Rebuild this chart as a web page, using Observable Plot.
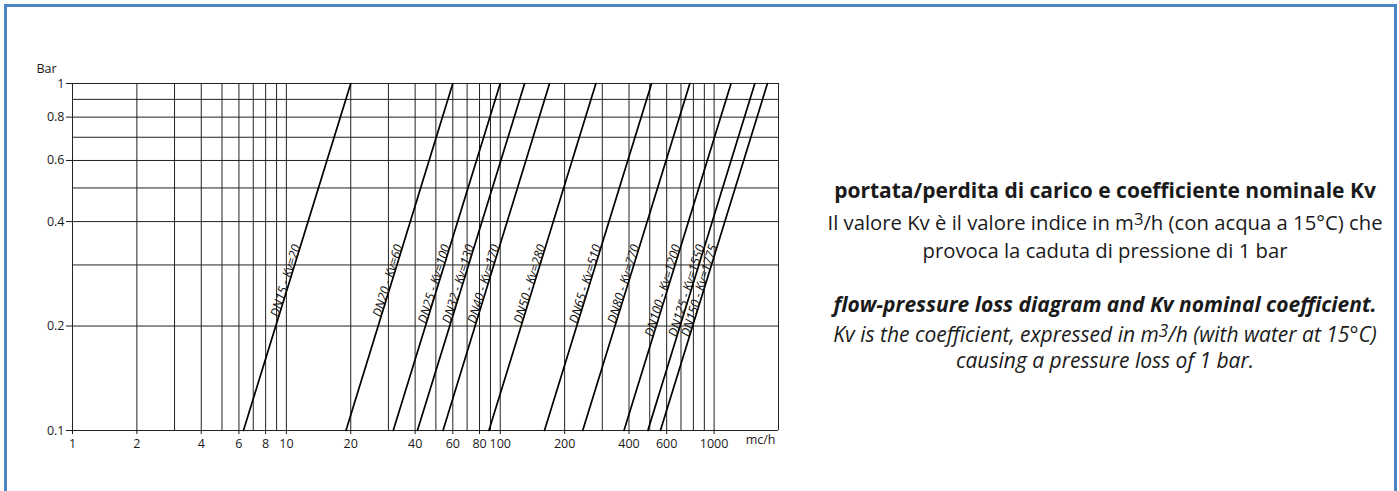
<!DOCTYPE html>
<html><head><meta charset="utf-8">
<script src="https://cdn.jsdelivr.net/npm/d3@7"></script>
<script src="https://cdn.jsdelivr.net/npm/@observablehq/plot@0.6"></script>
<style>
html,body{margin:0;padding:0;background:#fff;}
body{width:1399px;height:491px;overflow:hidden;position:relative;font-family:"Open Sans",sans-serif;color:#1a1a1a;}
#frame{position:absolute;left:4px;top:4px;width:1393px;height:540px;border:3px solid #4a86c5;box-sizing:border-box;}
#chart{position:absolute;left:0;top:0;}
.notes{position:absolute;left:755px;width:700px;text-align:center;font-size:21px;}
.notes div{white-space:nowrap;}
.it{line-height:28px;}
.en{line-height:26px;}
.b{font-weight:700;}
.r{font-size:20.3px;}
.i{font-style:italic;}
.bi{font-weight:700;font-style:italic;}
.gap{margin-top:4px;}
sup{font-size:0.82em;vertical-align:0.3em;line-height:0;}
</style></head>
<body>
<div id="frame"></div>
<div id="chart"></div>
<div class="notes it" style="top:176px">
<div class="b">portata/perdita di carico e coefficiente nominale Kv</div>
<div class="gap r">Il valore Kv è il valore indice in m<sup>3</sup>/h (con acqua a 15°C) che</div>
<div class="r">provoca la caduta di pressione di 1 bar</div>
</div>
<div class="notes en" style="top:291px">
<div class="bi">flow-pressure loss diagram and Kv nominal coefficient.</div>
<div class="i gap">Kv is the coefficient, expressed in m<sup>3</sup>/h (with water at 15°C)</div>
<div class="i">causing a pressure loss of 1 bar.</div>
</div>
<script>
// ---- data ----
const valves = ["DN15","DN20","DN25","DN32","DN40","DN50","DN65","DN80","DN100","DN125","DN150"];
const kv = [20, 60, 100, 130, 170, 280, 510, 770, 1200, 1550, 1775];          // flow (m3/h) at 1 bar
const flowAtLow = [6.3, 19, 31.6, 41, 54, 88.5, 161, 243, 379, 490, 561];      // flow (m3/h) at 0.1 bar
const dpLow = 0.1, dpHigh = 1;
const labelDp = 0.34;
const xTicks = [1, 2, 4, 6, 8, 10, 20, 40, 60, 80, 100, 200, 400, 600, 1000];
const yTicks = [0.1, 0.2, 0.4, 0.6, 0.8, 1];
const xGrid = [1,2,3,4,5,6,7,8,9,10,20,30,40,50,60,70,80,90,100,200,300,400,500,600,700,800,900,1000,2000];
const yGrid = [0.1,0.2,0.3,0.4,0.5,0.6,0.7,0.8,0.9,1];
const xDomain = [1, 2000];
const yDomain = [0.1, 1];

// ---- layout ----
const W = 800, H = 470, mL = 72, mR = 22, mT = 83, mB = 40;

const segs = [];
valves.forEach((v, i) => {
  segs.push({valve: v, q: flowAtLow[i], dp: dpLow});
  segs.push({valve: v, q: kv[i], dp: dpHigh});
});
const t = (Math.log10(labelDp) - Math.log10(dpLow)) / (Math.log10(dpHigh) - Math.log10(dpLow));
const labels = valves.map((v, i) => ({
  text: `${v} - Kv=${kv[i]}`,
  q: Math.pow(10, Math.log10(flowAtLow[i]) + t * (Math.log10(kv[i]) - Math.log10(flowAtLow[i]))),
  dp: labelDp
}));
const pxPerDecX = (W - mL - mR) / (Math.log10(xDomain[1]) - Math.log10(xDomain[0]));
const pxPerDecY = (H - mT - mB) / (Math.log10(yDomain[1]) - Math.log10(yDomain[0]));
const angle = -Math.atan2(pxPerDecY, pxPerDecX / 2) * 180 / Math.PI;

const chart = Plot.plot({
  width: W, height: H,
  marginLeft: mL, marginRight: mR, marginTop: mT, marginBottom: mB,
  style: {fontFamily: "Open Sans, sans-serif", fontSize: "12.5px", color: "#1a1a1a", background: "transparent"},
  x: {type: "log", domain: xDomain},
  y: {type: "log", domain: yDomain},
  marks: [
    Plot.ruleX(xGrid, {x: d => d, stroke: "#222", strokeWidth: 1}),
    Plot.ruleY(yGrid, {y: d => d, stroke: "#222", strokeWidth: 1}),
    Plot.axisX({ticks: xTicks, tickSize: 4, tickFormat: () => "", label: null}),
    Plot.text(xTicks, {x: d => d, y: yDomain[0], dy: 13, text: d => String(d), lineAnchor: "middle", fontSize: 12.5}),
    Plot.axisY({ticks: yTicks, tickSize: 6, tickPadding: 2, tickFormat: d => String(d), label: null, fontSize: 12.5}),
    Plot.line(segs, {x: "q", y: "dp", z: "valve", stroke: "#000", strokeWidth: 1.7}),
    Plot.text(labels, {x: "q", y: "dp", text: "text", rotate: angle, textAnchor: "end", lineAnchor: "bottom",
      fontStyle: "italic", fontSize: 12.5, fill: "#111"}),
    Plot.text(["Bar"], {frameAnchor: "top-left", text: d => d, dx: -36, dy: -19, textAnchor: "start", fontSize: 12.5}),
    Plot.text(["mc/h"], {frameAnchor: "bottom-right", text: d => d, dx: -3, dy: 13, textAnchor: "end", fontSize: 12.5})
  ]
});
document.getElementById("chart").appendChild(chart);
</script>
</body></html>
